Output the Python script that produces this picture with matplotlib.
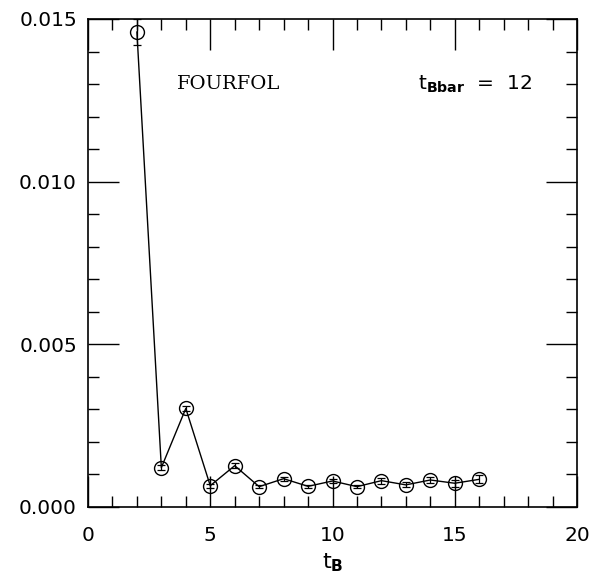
import matplotlib
matplotlib.use("Agg")
import matplotlib.pyplot as plt
from matplotlib.ticker import MultipleLocator

t_b = [2, 3, 4, 5, 6, 7, 8, 9, 10, 11, 12, 13, 14, 15, 16]
val = [0.01460, 0.00121, 0.00303, 0.000655, 0.00127, 0.000625, 0.00087,
       0.000635, 0.00080, 0.000625, 0.00081, 0.00068, 0.00083, 0.00073, 0.00085]
err = [0.00040, 0.00008, 0.00008, 0.00006, 0.00007, 0.00005, 0.00006,
       0.00005, 0.00007, 0.00005, 0.00009, 0.00008, 0.00010, 0.00010, 0.00012]

plt.rcParams['font.family'] = ['DejaVu Sans']
plt.rcParams['mathtext.fontset'] = 'dejavusans'

fig = plt.figure(figsize=(5.95, 5.79), dpi=100)
ax = fig.add_axes([88/595, 1 - 507/579, (577-88)/595, (507-19)/579])

ax.errorbar(t_b, val, yerr=err, fmt='none', ecolor='black', elinewidth=0.9,
            capsize=3, capthick=0.9)
ax.plot(t_b, val, color='black', lw=1.0, marker='o', markersize=10,
        markerfacecolor='none', markeredgecolor='black', markeredgewidth=1.0)

ax.set_xlim(0, 20)
ax.set_ylim(0, 0.015)
ax.xaxis.set_major_locator(MultipleLocator(5))
ax.xaxis.set_minor_locator(MultipleLocator(1))
ax.yaxis.set_major_locator(MultipleLocator(0.005))
ax.yaxis.set_minor_locator(MultipleLocator(0.001))
ax.yaxis.set_major_formatter(plt.FuncFormatter(lambda v, p: f"{v:.3f}"))
ax.tick_params(which='both', direction='in', top=True, right=True,
               labelsize=14.5, width=1.0)
ax.tick_params(axis='x', pad=14)
ax.tick_params(axis='y', pad=8)
ax.tick_params(which='major', length=22)
ax.tick_params(which='minor', length=8)
for s in ax.spines.values():
    s.set_linewidth(1.2)

ax.set_xlabel(r'$\mathregular{t}_{\mathbf{B}}$', fontsize=16, labelpad=4)
ax.text(3.65, 0.0130, 'FOURFOL', fontsize=14, va='center',
        family='DejaVu Serif')
ax.text(13.5, 0.0130, r'$\mathregular{t}_{\mathbf{Bbar}}$  =  12',
        fontsize=14.5, va='center')

fig.savefig('out.png', dpi=100)
